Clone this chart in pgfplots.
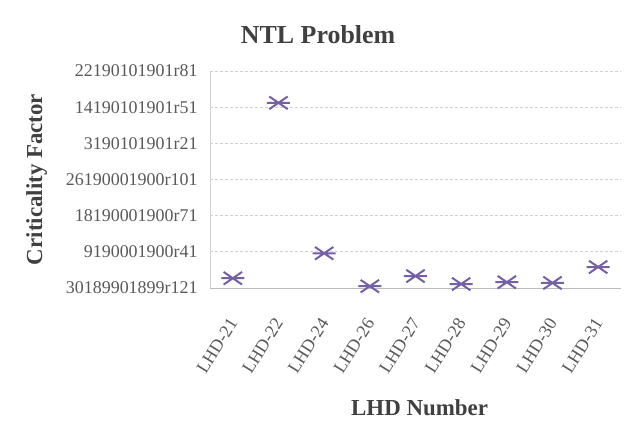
\documentclass[border=0pt]{standalone}
\usepackage{pgfplots}
\pgfplotsset{compat=1.18}
\usepackage{fontspec}
\setmainfont{Liberation Serif}
\definecolor{mk}{HTML}{7560A5}
\definecolor{grd}{HTML}{D0D0D0}
\definecolor{txt}{HTML}{595959}
\definecolor{ttl}{HTML}{404040}
\pgfdeclareplotmark{xstar}{%
  \pgfpathmoveto{\pgfqpoint{-\pgfplotmarksize}{0pt}}%
  \pgfpathlineto{\pgfqpoint{\pgfplotmarksize}{0pt}}%
  \pgfpathmoveto{\pgfqpoint{-0.8\pgfplotmarksize}{-0.55\pgfplotmarksize}}%
  \pgfpathlineto{\pgfqpoint{0.8\pgfplotmarksize}{0.55\pgfplotmarksize}}%
  \pgfpathmoveto{\pgfqpoint{-0.8\pgfplotmarksize}{0.55\pgfplotmarksize}}%
  \pgfpathlineto{\pgfqpoint{0.8\pgfplotmarksize}{-0.55\pgfplotmarksize}}%
  \pgfusepathqstroke}
\begin{document}
\begin{tikzpicture}
\path[use as bounding box] (-210bp,-147bp) rectangle (426bp,288bp);
\begin{axis}[
  at={(0,0)}, anchor=south west,
  scale only axis, width=411bp, height=217bp,
  xmin=-0.5, xmax=8.5, ymin=0, ymax=6,
  xtick={0,...,8},
  xticklabels={LHD-21,LHD-22,LHD-24,LHD-26,LHD-27,LHD-28,LHD-29,LHD-30,LHD-31},
  ytick={0,...,6},
  yticklabels={30189901899r121,9190001900r41,18190001900r71,26190001900r101,3190101901r21,14190101901r51,22190101901r81},
  major tick length=0pt,
  ymajorgrids,
  grid style={grd, dash pattern=on 3bp off 2bp, line width=0.8bp},
  axis line style={draw=none},
  axis x line*=bottom, axis y line*=left,
  x axis line style={draw=none},
  tick label style={font=\fontsize{18}{19}\selectfont, text=txt},
  xticklabel style={xshift=-6bp, yshift=-24bp, rotate=58, anchor=north east},
  yticklabel style={xshift=-9bp},
  title={NTL Problem},
  title style={font=\fontsize{26}{28}\selectfont\bfseries, text=ttl, at={(axis description cs:0.263,1.138)}, anchor=center},
  xlabel={LHD Number},
  xlabel style={font=\fontsize{23}{25}\selectfont\bfseries, text=ttl, at={(axis description cs:0.51,-0.553)}, anchor=center},
  ylabel={Criticality Factor},
  ylabel style={font=\fontsize{23}{25}\selectfont\bfseries, text=ttl, at={(axis description cs:-0.422,0.5)}, anchor=center, rotate=0},
  clip=false,
]
\draw[grd!90!black, line width=0.8bp] (axis cs:-0.5,0) -- (axis cs:8.5,0);
\draw[grd, line width=0.8bp] (axis cs:-0.5,0) -- (axis cs:-0.5,6);
\addplot[only marks, mark=xstar, mark size=11.5bp, mk, line width=2bp] coordinates {
(0,0.27) (1,5.12) (2,0.96) (3,0.05) (4,0.33) (5,0.11) (6,0.16) (7,0.14) (8,0.58)
};
\end{axis}
\end{tikzpicture}
\end{document}
